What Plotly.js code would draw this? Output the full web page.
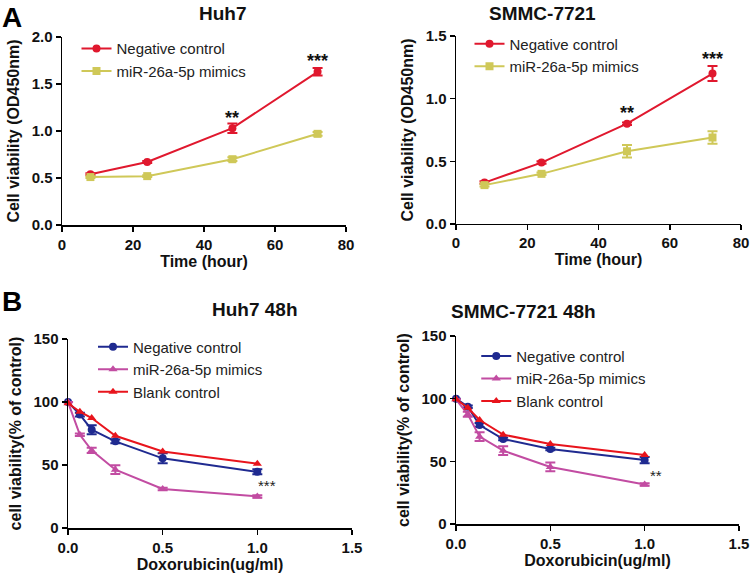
<!DOCTYPE html>
<html><head><meta charset="utf-8">
<script src="https://cdn.plot.ly/plotly-3.0.1.min.js"></script>
<style>html,body{margin:0;padding:0;background:#fff}#c{width:750px;height:574px}</style>
</head><body><div id="c"></div>
<script>
// ---- data ----
const timeHours = [8, 24, 48, 72];
const huhNC = [0.54, 0.67, 1.03, 1.63];
const huhNCErr = [0.01, 0.01, 0.05, 0.04];
const huhMim = [0.51, 0.52, 0.70, 0.97];
const huhMimErr = [0.01, 0.01, 0.02, 0.02];
const smmcNC = [0.33, 0.49, 0.80, 1.20];
const smmcNCErr = [0.01, 0.01, 0.01, 0.06];
const smmcMim = [0.31, 0.40, 0.58, 0.69];
const smmcMimErr = [0.01, 0.01, 0.05, 0.05];

const dox = [0, 0.0625, 0.125, 0.25, 0.5, 1.0];
const huhDoxNC = [100, 90, 78, 68.8, 55.3, 44.6];
const huhDoxNCErr = [0, 1.5, 3.5, 1.5, 4, 2];
const huhDoxMim = [100, 74, 61.6, 46.3, 31.0, 25.1];
const huhDoxMimErr = [0, 1, 2, 3.5, 1, 1];
const huhDoxBlank = [99, 92.3, 87.3, 73.2, 60.8, 51];
const smmcDoxNC = [100, 93.6, 79, 67.8, 59.8, 51];
const smmcDoxNCErr = [0, 1, 1.5, 1, 1, 2.5];
const smmcDoxMim = [99.5, 87.5, 69.7, 58.5, 45.5, 31.6];
const smmcDoxMimErr = [0, 2, 3.5, 3.5, 3.5, 1];
const smmcDoxBlank = [99.5, 92.8, 83, 71.3, 63.8, 55];

const seriesNames = ['Negative control', 'miR-26a-5p mimics', 'Blank control'];
const panelTitles = ['Huh7', 'SMMC-7721', 'Huh7 48h', 'SMMC-7721 48h'];

// ---- styles ----
const FONT = 'Arial, "Liberation Sans", Helvetica, sans-serif';
const RED_A = '#e0182e', YEL = '#cfc858', BLUE = '#1f2a90', MAG = '#c24ca2', RED_B = '#e8141c';

function tr(x, y, err, name, color, symbol, size, xa, ya, legend, show) {
  const t = {
    x: x, y: y, name: name, type: 'scatter', mode: 'lines+markers',
    xaxis: xa, yaxis: ya, legend: legend, showlegend: show,
    line: {color: color, width: 2},
    marker: {color: color, symbol: symbol, size: size},
    cliponaxis: false
  };
  if (err) t.error_y = {type: 'data', array: err, visible: true, color: color, thickness: 2, width: 5};
  return t;
}

const data = [
  tr(timeHours, huhNC, huhNCErr, seriesNames[0], RED_A, 'circle', 8, 'x', 'y', 'legend', true),
  tr(timeHours, huhMim, huhMimErr, seriesNames[1], YEL, 'square', 8, 'x', 'y', 'legend', true),
  tr(timeHours, smmcNC, smmcNCErr, seriesNames[0], RED_A, 'circle', 8, 'x2', 'y2', 'legend2', true),
  tr(timeHours, smmcMim, smmcMimErr, seriesNames[1], YEL, 'square', 8, 'x2', 'y2', 'legend2', true),
  tr(dox, huhDoxNC, huhDoxNCErr, seriesNames[0], BLUE, 'circle', 8, 'x3', 'y3', 'legend3', true),
  tr(dox, huhDoxMim, huhDoxMimErr, seriesNames[1], MAG, 'triangle-up', 8, 'x3', 'y3', 'legend3', true),
  tr(dox, huhDoxBlank, null, seriesNames[2], RED_B, 'triangle-up', 8, 'x3', 'y3', 'legend3', true),
  tr(dox, smmcDoxNC, smmcDoxNCErr, seriesNames[0], BLUE, 'circle', 8, 'x4', 'y4', 'legend4', true),
  tr(dox, smmcDoxMim, smmcDoxMimErr, seriesNames[1], MAG, 'triangle-up', 8, 'x4', 'y4', 'legend4', true),
  tr(dox, smmcDoxBlank, null, seriesNames[2], RED_B, 'triangle-up', 8, 'x4', 'y4', 'legend4', true)
];

function ax(domain, range, dtick, fmt, anchor, title, standoff) {
  return {
    domain: domain, range: range, dtick: dtick, tick0: 0, tickformat: fmt,
    anchor: anchor, showgrid: false, zeroline: false,
    showline: true, linecolor: '#000', linewidth: 1.5,
    ticks: 'outside', ticklen: 5, tickwidth: 1.5, tickcolor: '#000',
    tickfont: {family: FONT, size: 15, color: '#111', weight: 'bold'},
    title: {text: title, font: {family: FONT, size: 16, color: '#111', weight: 'bold'}, standoff: standoff},
    automargin: false, fixedrange: true
  };
}

const legendBase = {
  font: {family: FONT, size: 15, color: '#222'}, bgcolor: 'rgba(0,0,0,0)',
  xanchor: 'left', yanchor: 'top', itemwidth: 30, tracegroupgap: 0, traceorder: 'normal'
};

function titleAnn(text, px, pyTop) {
  return {text: '<b>' + text + '</b>', xref: 'paper', yref: 'paper', x: px/750, y: 1 - pyTop/574,
          yanchor: 'top', showarrow: false, font: {family: FONT, size: 19, color: '#111'}};
}

const layout = {
  width: 750, height: 574,
  margin: {l: 0, r: 0, t: 0, b: 0},
  paper_bgcolor: '#fff', plot_bgcolor: '#fff',
  font: {family: FONT},
  xaxis: ax([0.0827, 0.4613], [0, 80], 20, 'd', 'y', 'Time (hour)', 2),
  yaxis: ax([0.608, 0.9355], [0, 2], 0.5, '.1f', 'x', 'Cell viability (OD450nm)', 8),
  xaxis2: ax([0.608, 0.988], [0, 80], 20, 'd', 'y2', 'Time (hour)', 2),
  yaxis2: ax([0.6098, 0.9373], [0, 1.5], 0.5, '.1f', 'x2', 'Cell viability (OD450nm)', 8),
  xaxis3: ax([0.0907, 0.4693], [0, 1.5], 0.5, '.1f', 'y3', 'Doxorubicin(ug/ml)', 3),
  yaxis3: ax([0.0801, 0.4094], [0, 150], 50, 'd', 'x3', 'cell viability(% of control)', 8),
  xaxis4: ax([0.608, 0.9853], [0, 1.5], 0.5, '.1f', 'y4', 'Doxorubicin(ug/ml)', 3),
  yaxis4: ax([0.0871, 0.4146], [0, 150], 50, 'd', 'x4', 'cell viability(% of control)', 8),
  legend: Object.assign({}, legendBase, {x: 0.102, y: 0.944}),
  legend2: Object.assign({}, legendBase, {x: 0.626, y: 0.952}),
  legend3: Object.assign({}, legendBase, {x: 0.124, y: 0.424}),
  legend4: Object.assign({}, legendBase, {x: 0.635, y: 0.408}),
  annotations: [
    titleAnn(panelTitles[0], 197, 1),
    titleAnn(panelTitles[1], 598, 1),
    titleAnn(panelTitles[2], 210, 297),
    titleAnn(panelTitles[3], 598, 299),
    {text: '<b>A</b>', xref: 'paper', yref: 'paper', x: 0, y: 1, xanchor: 'left', yanchor: 'top', showarrow: false, font: {family: FONT, size: 28, color: '#000'}},
    {text: '<b>B</b>', xref: 'paper', yref: 'paper', x: 0, y: 1 - 284/574, xanchor: 'left', yanchor: 'top', showarrow: false, font: {family: FONT, size: 28, color: '#000'}},
    {text: '<b>**</b>', xref: 'x', yref: 'y', x: 48, y: 1.14, showarrow: false, font: {family: FONT, size: 18, color: '#111'}},
    {text: '<b>***</b>', xref: 'x', yref: 'y', x: 72, y: 1.74, showarrow: false, font: {family: FONT, size: 18, color: '#111'}},
    {text: '<b>**</b>', xref: 'x2', yref: 'y2', x: 48, y: 0.885, showarrow: false, font: {family: FONT, size: 18, color: '#111'}},
    {text: '<b>***</b>', xref: 'x2', yref: 'y2', x: 72, y: 1.32, showarrow: false, font: {family: FONT, size: 18, color: '#111'}},
    {text: '***', xref: 'x3', yref: 'y3', x: 1.05, y: 34, showarrow: false, font: {family: FONT, size: 15, color: '#222'}},
    {text: '**', xref: 'x4', yref: 'y4', x: 1.06, y: 39, showarrow: false, font: {family: FONT, size: 15, color: '#222'}}
  ]
};

Plotly.newPlot('c', data, layout, {displayModeBar: false, staticPlot: true});
</script>
</body></html>
